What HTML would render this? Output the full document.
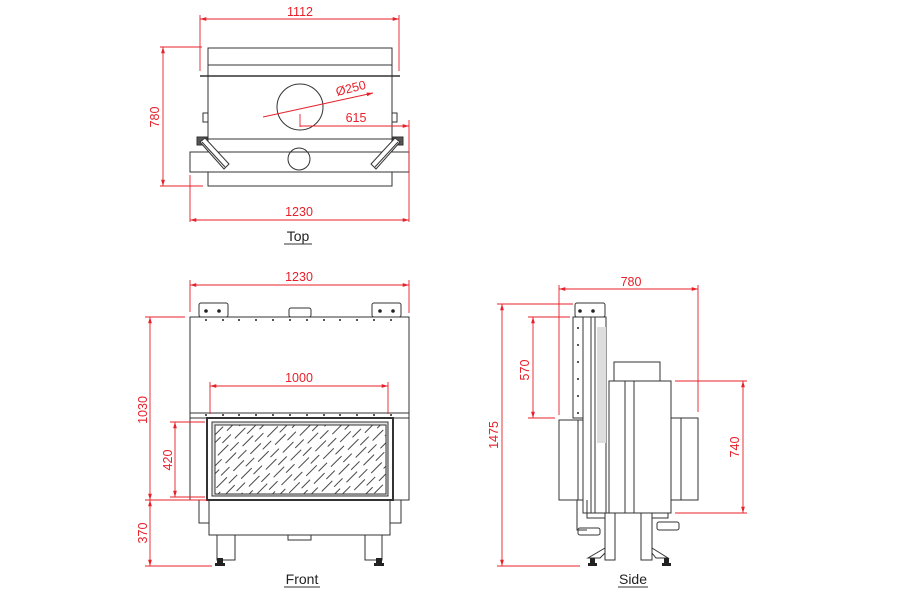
<!DOCTYPE html>
<html><head><meta charset="utf-8"><style>
html,body{margin:0;padding:0;background:#fff;}
svg{display:block;}
text{font-family:"Liberation Sans",sans-serif;}
.d{stroke:#333;stroke-width:1;fill:none;}
.df{stroke:#333;stroke-width:1;fill:#fff;}
.r{stroke:#e8202a;stroke-width:0.9;fill:none;}
.rt{fill:#e8202a;font-size:12.5px;}
.lb{fill:#222;font-size:14px;}
</style></head><body>
<svg width="900" height="600" viewBox="0 0 900 600" xmlns="http://www.w3.org/2000/svg">
<defs>
<marker id="a" viewBox="0 0 10 10" refX="10" refY="5" markerWidth="7" markerHeight="7" orient="auto-start-reverse"><path d="M0,2 L10,5 L0,8 z" fill="#e8202a"/></marker>
<pattern id="h" width="24" height="11" patternUnits="userSpaceOnUse" patternTransform="rotate(-45)"><line x1="0" y1="3" x2="15" y2="3" stroke="#333" stroke-width="0.9"/><line x1="12" y1="8.5" x2="24" y2="8.5" stroke="#333" stroke-width="0.9"/></pattern>
</defs>

<!-- ================= TOP ================= -->
<g class="d">
<rect x="208" y="48" width="184" height="17"/>
<line x1="200" y1="76" x2="400" y2="76" stroke-width="1.5"/>
<rect x="208" y="65" width="184" height="121"/>
<line x1="208" y1="139" x2="392" y2="139"/>
<rect class="df" x="190" y="152" width="219" height="20"/>
<rect x="203" y="113" width="5" height="9"/>
<rect x="392" y="113" width="5" height="9"/>
<circle cx="300" cy="107" r="23"/>
<circle cx="299" cy="159" r="11"/>
<rect x="197" y="137" width="10" height="8" fill="#555"/>
<rect x="393" y="137" width="10" height="8" fill="#555"/>
<polygon points="200,142 205,138 229,164 224,169" fill="#fff"/>
<line x1="202" y1="142" x2="225" y2="167" />
<polygon points="400,142 395,138 371,164 376,169" fill="#fff"/>
<line x1="398" y1="142" x2="375" y2="167"/>
</g>
<g class="r">
<line x1="200" y1="15" x2="200" y2="71"/><line x1="399" y1="15" x2="399" y2="71"/>
<line x1="200" y1="19" x2="399" y2="19" marker-start="url(#a)" marker-end="url(#a)"/>
<line x1="160" y1="47" x2="202" y2="47"/><line x1="160" y1="186" x2="203" y2="186"/>
<line x1="163" y1="47" x2="163" y2="186" marker-start="url(#a)" marker-end="url(#a)"/>
<line x1="263" y1="117" x2="373" y2="93" marker-end="url(#a)"/>
<line x1="300" y1="114" x2="300" y2="127"/>
<line x1="300" y1="126" x2="409" y2="126" marker-end="url(#a)"/>
<line x1="409" y1="120" x2="409" y2="222"/><line x1="190" y1="175" x2="190" y2="222"/>
<line x1="190" y1="220" x2="409" y2="220" marker-start="url(#a)" marker-end="url(#a)"/>
</g>
<text class="rt" x="300" y="16" text-anchor="middle">1112</text>
<text class="rt" x="159" y="117" text-anchor="middle" transform="rotate(-90 159 117)">780</text>
<text class="rt" x="337" y="96" transform="rotate(-14 337 96)">Ø250</text>
<text class="rt" x="356" y="122" text-anchor="middle">615</text>
<text class="rt" x="299" y="216" text-anchor="middle">1230</text>
<text class="lb" x="298" y="241" text-anchor="middle">Top</text>
<line x1="284" y1="244" x2="312" y2="244" stroke="#333"/>

<!-- ================= FRONT ================= -->
<g class="d">
<rect x="199" y="303" width="29" height="14" rx="2"/>
<rect x="372" y="303" width="29" height="14" rx="2"/>
<rect x="289" y="308" width="22" height="9" rx="2"/>
<rect x="190" y="317" width="219" height="183"/>
<line x1="190" y1="413" x2="409" y2="413"/>
<line x1="190" y1="418" x2="409" y2="418"/>
<rect x="207" y="418" width="186" height="82" stroke-width="2"/>
<rect x="212" y="422" width="176" height="74" fill="#e4e4e4"/>
<rect x="215" y="425" width="171" height="69" fill="#fff"/>
<rect x="215" y="425" width="171" height="69" fill="url(#h)"/>
<rect x="209" y="500" width="181" height="35"/>
<rect x="199" y="500" width="10" height="23"/>
<rect x="390" y="500" width="11" height="23"/>
<rect x="288" y="535" width="23" height="5"/>
<rect x="217" y="535" width="18" height="25"/>
<rect x="365" y="535" width="17" height="25"/>
</g>
<g fill="#222">
<circle cx="206" cy="311" r="1.8"/><circle cx="219" cy="311" r="1.8"/>
<circle cx="380" cy="311" r="1.8"/><circle cx="393" cy="311" r="1.8"/>
<rect x="217" y="558" width="6" height="5"/><rect x="215" y="563" width="10" height="3"/>
<rect x="376" y="558" width="6" height="5"/><rect x="374" y="563" width="10" height="3"/>
</g>
<g fill="#222">
<circle cx="206" cy="320" r="1"/><circle cx="223" cy="320" r="1"/><circle cx="239" cy="320" r="1"/><circle cx="256" cy="320" r="1"/><circle cx="273" cy="320" r="1"/><circle cx="290" cy="320" r="1"/><circle cx="307" cy="320" r="1"/><circle cx="324" cy="320" r="1"/><circle cx="340" cy="320" r="1"/><circle cx="357" cy="320" r="1"/><circle cx="374" cy="320" r="1"/><circle cx="391" cy="320" r="1"/>
<circle cx="206" cy="415" r="1"/><circle cx="223" cy="415" r="1"/><circle cx="239" cy="415" r="1"/><circle cx="256" cy="415" r="1"/><circle cx="273" cy="415" r="1"/><circle cx="290" cy="415" r="1"/><circle cx="307" cy="415" r="1"/><circle cx="324" cy="415" r="1"/><circle cx="340" cy="415" r="1"/><circle cx="357" cy="415" r="1"/><circle cx="374" cy="415" r="1"/><circle cx="391" cy="415" r="1"/>
</g>
<g class="r">
<line x1="190" y1="280" x2="190" y2="312"/><line x1="409" y1="280" x2="409" y2="313"/>
<line x1="190" y1="285" x2="409" y2="285" marker-start="url(#a)" marker-end="url(#a)"/>
<line x1="210" y1="382" x2="210" y2="414"/><line x1="388" y1="382" x2="388" y2="414"/>
<line x1="210" y1="386" x2="388" y2="386" marker-start="url(#a)" marker-end="url(#a)"/>
<line x1="145" y1="317" x2="185" y2="317"/>
<line x1="145" y1="500" x2="207" y2="500"/>
<line x1="145" y1="566" x2="212" y2="566"/>
<line x1="170" y1="422" x2="205" y2="422"/><line x1="170" y1="497" x2="205" y2="497"/>
<line x1="150" y1="317" x2="150" y2="500" marker-start="url(#a)" marker-end="url(#a)"/>
<line x1="150" y1="500" x2="150" y2="566" marker-start="url(#a)" marker-end="url(#a)"/>
<line x1="175" y1="422" x2="175" y2="497" marker-start="url(#a)" marker-end="url(#a)"/>
</g>
<text class="rt" x="299" y="281" text-anchor="middle">1230</text>
<text class="rt" x="299" y="382" text-anchor="middle">1000</text>
<text class="rt" x="147" y="410" text-anchor="middle" transform="rotate(-90 147 410)">1030</text>
<text class="rt" x="172" y="460" text-anchor="middle" transform="rotate(-90 172 460)">420</text>
<text class="rt" x="147" y="533" text-anchor="middle" transform="rotate(-90 147 533)">370</text>
<text class="lb" x="302" y="584" text-anchor="middle">Front</text>
<line x1="284" y1="587" x2="320" y2="587" stroke="#333"/>

<!-- ================= SIDE ================= -->
<g class="d">
<rect x="575" y="303" width="30" height="14" rx="2"/>
<rect x="573" y="317" width="10" height="101"/>
<path d="M583,317 V418 L573,418"/>
<rect x="583" y="317" width="23" height="196"/>
<line x1="591" y1="317" x2="591" y2="513"/>
<line x1="595" y1="317" x2="595" y2="513"/>
<rect x="597" y="327" width="9" height="116" fill="#ddd" stroke="none"/>
<rect x="559" y="420" width="19" height="80" fill="#fff"/>
<line x1="578" y1="420" x2="578" y2="500"/>
<rect x="578" y="420" width="5" height="80"/>
<rect x="614" y="362" width="46" height="19"/>
<rect x="609" y="381" width="62" height="132"/>
<line x1="625" y1="381" x2="625" y2="513"/>
<line x1="634" y1="381" x2="634" y2="513"/>
<rect x="671" y="418" width="27" height="82"/>
<line x1="681" y1="418" x2="681" y2="500"/>
<path d="M577,500 V530 H587"/>
<rect x="578" y="528" width="22" height="7" rx="2"/>
<path d="M587,500 V518 H605"/>
<rect x="605" y="513" width="10" height="47"/>
<rect x="641" y="513" width="11" height="47"/>
<path d="M652,518 H668 V513"/>
<rect x="657" y="522" width="22" height="8" rx="2"/>
<path d="M605,548 L588,558 H600 L605,553"/>
<path d="M652,548 L668,558 H656 L652,553"/>
</g>
<g fill="#222">
<circle cx="580" cy="311" r="1.8"/><circle cx="593" cy="311" r="1.8"/>
<circle cx="578" cy="328" r="1"/><circle cx="578" cy="345" r="1"/><circle cx="578" cy="362" r="1"/><circle cx="578" cy="379" r="1"/><circle cx="578" cy="396" r="1"/><circle cx="578" cy="413" r="1"/>
<rect x="590" y="558" width="5" height="5"/><rect x="588" y="563" width="9" height="3"/>
<rect x="664" y="558" width="5" height="5"/><rect x="662" y="563" width="9" height="3"/>
</g>
<g class="r">
<line x1="559" y1="285" x2="559" y2="415"/><line x1="698" y1="285" x2="698" y2="412"/>
<line x1="559" y1="289" x2="698" y2="289" marker-start="url(#a)" marker-end="url(#a)"/>
<line x1="497" y1="304" x2="573" y2="304"/>
<line x1="528" y1="317" x2="570" y2="317"/>
<line x1="528" y1="418" x2="555" y2="418"/>
<line x1="675" y1="381" x2="747" y2="381"/>
<line x1="675" y1="513" x2="747" y2="513"/>
<line x1="497" y1="566" x2="580" y2="566"/>
<line x1="502" y1="304" x2="502" y2="566" marker-start="url(#a)" marker-end="url(#a)"/>
<line x1="533" y1="317" x2="533" y2="418" marker-start="url(#a)" marker-end="url(#a)"/>
<line x1="743" y1="381" x2="743" y2="513" marker-start="url(#a)" marker-end="url(#a)"/>
</g>
<text class="rt" x="631" y="286" text-anchor="middle">780</text>
<text class="rt" x="498" y="435" text-anchor="middle" transform="rotate(-90 498 435)">1475</text>
<text class="rt" x="529" y="370" text-anchor="middle" transform="rotate(-90 529 370)">570</text>
<text class="rt" x="739" y="447" text-anchor="middle" transform="rotate(-90 739 447)">740</text>
<text class="lb" x="633" y="584" text-anchor="middle">Side</text>
<line x1="618" y1="587" x2="648" y2="587" stroke="#333"/>
</svg>
</body></html>
